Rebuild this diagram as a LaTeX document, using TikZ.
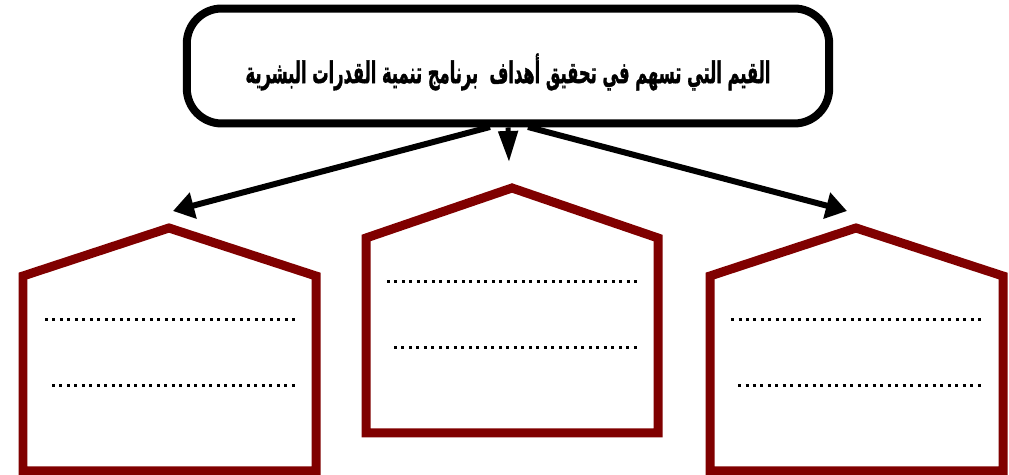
\documentclass[tikz,border=0pt]{standalone}
\usepackage{fontspec}
\usepackage{graphicx}
\TeXXeTstate=1
\newfontfamily\arabicfont[Script=Arabic,FakeBold=1.5]{DejaVu Sans Bold}
\usetikzlibrary{arrows.meta}
\definecolor{housered}{HTML}{800000}
\tikzset{
  titlebox/.style={draw=black, line width=0.16cm, rounded corners=0.7cm, fill=white,
    minimum width=12.85cm, minimum height=2.3cm, inner sep=0pt},
  housepath/.style={draw=housered, line width=0.18cm, line join=miter},
  dotline/.style={draw=black, line width=0.06cm, dash pattern=on 0.06cm off 0.09cm},
  bigarrow/.style={draw=black, line width=0.12cm, -{Triangle[length=0.42cm,width=0.52cm]}},
  downarrow/.style={draw=black, line width=0.1cm, -{Triangle[length=0.62cm,width=0.38cm]}},
  titletext/.style={anchor=center, inner sep=0pt}
}
\begin{document}
\begin{tikzpicture}[x=0.02cm, y=-0.02cm]
\useasboundingbox (0,0) rectangle (1009,475);
% title
\node[titlebox] (title) at (508,66) {};
\node[titletext] (titletxt) at (508,72)
  {\resizebox*{10.5cm}{0.74cm}{\arabicfont\beginR القيم التي تسهم في تحقيق أهداف \ برنامج تنمية القدرات البشرية\endR}};
% arrow targets
\coordinate (lt) at (173,211);
\coordinate (mt) at (509,162);
\coordinate (rt) at (847,211);
\coordinate (lo) at (490,127);
\coordinate (ro) at (528,127);
\draw[bigarrow] (lo) -- (lt);
\draw[bigarrow] (ro) -- (rt);
\draw[downarrow] (title.south) -- (mt);
% houses
\draw[housepath] (23,471) -- (23,276) -- (169,228) -- (316,276) -- (316,471) -- cycle;
\draw[housepath] (366,433) -- (366,238) -- (512,188) -- (658,238) -- (658,433) -- cycle;
\draw[housepath] (710,471) -- (710,276) -- (856,228) -- (1003,276) -- (1003,471) -- cycle;
% dotted lines
\draw[dotline] (45,320) -- (296,320);
\draw[dotline] (52,386) -- (296,386);
\draw[dotline] (387,282) -- (638,282);
\draw[dotline] (394,348) -- (638,348);
\draw[dotline] (731,320) -- (982,320);
\draw[dotline] (738,386) -- (982,386);
\end{tikzpicture}
\end{document}
